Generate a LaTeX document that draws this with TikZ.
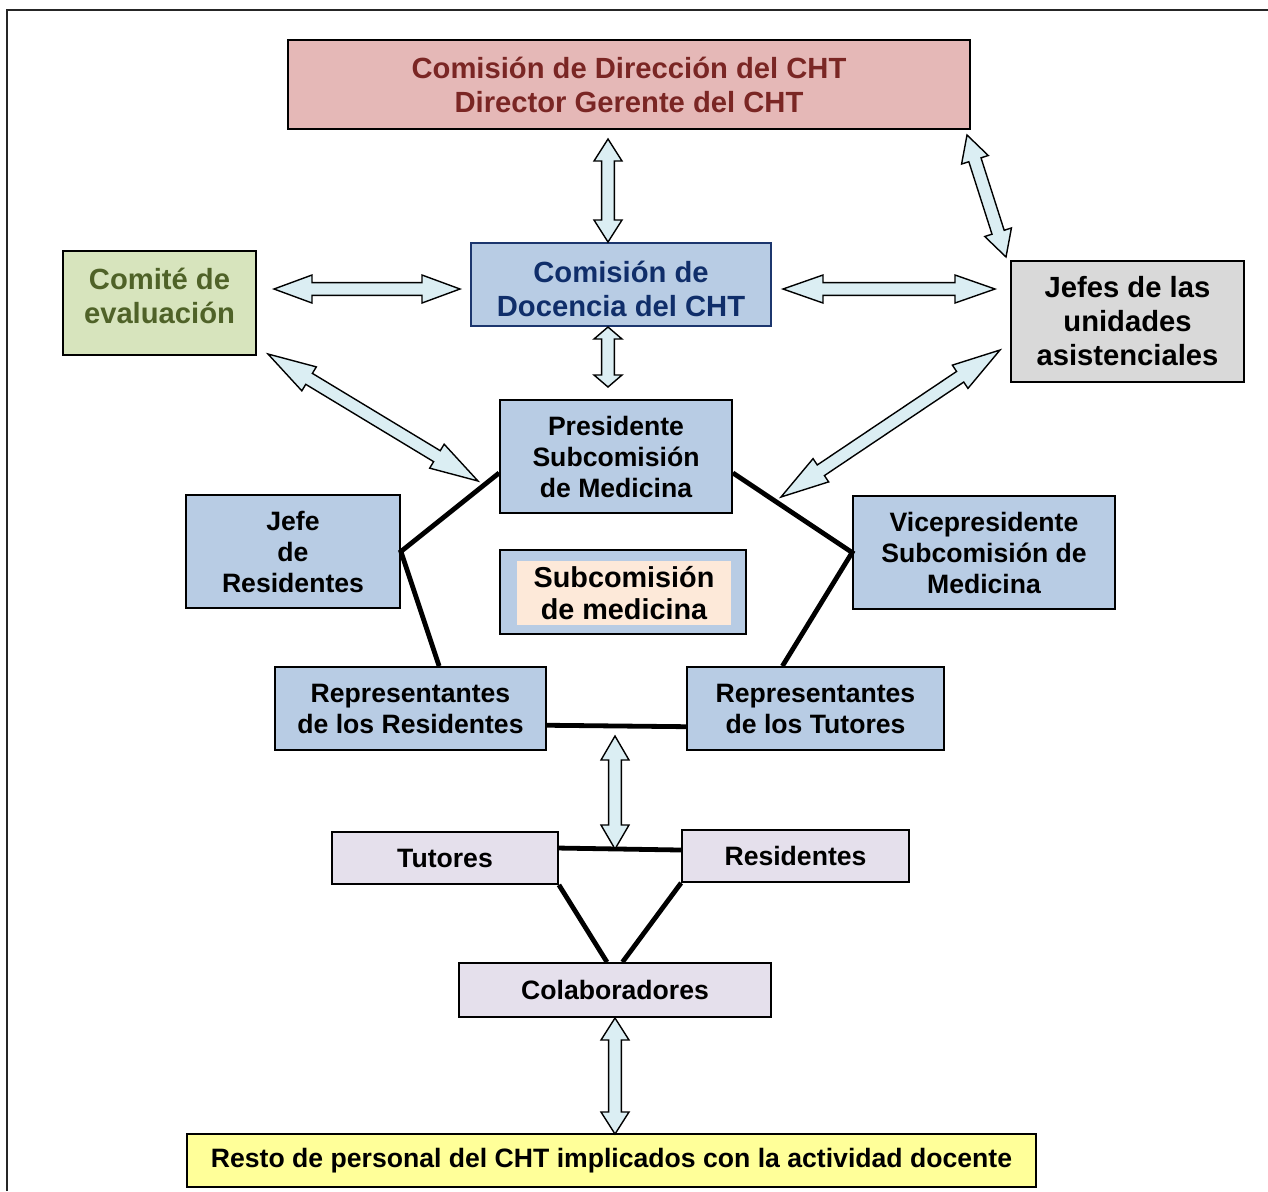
\documentclass[tikz,border=0pt]{standalone}
\usepackage{fontspec}
\setmainfont{Liberation Sans}
\usetikzlibrary{calc}
\definecolor{dirfill}{RGB}{229,184,183}
\definecolor{dirtext}{RGB}{122,38,36}
\definecolor{docfill}{RGB}{184,204,228}
\definecolor{doctext}{RGB}{16,46,106}
\definecolor{docline}{RGB}{28,54,110}
\definecolor{comfill}{RGB}{215,228,189}
\definecolor{comtext}{RGB}{79,98,40}
\definecolor{jeffill}{RGB}{217,217,217}
\definecolor{subfill}{RGB}{253,233,217}
\definecolor{lavfill}{RGB}{229,224,236}
\definecolor{restofill}{RGB}{255,255,153}
\definecolor{arrfill}{RGB}{219,238,243}
\tikzset{
  box/.style={draw=black, line width=0.9pt, align=center, inner sep=0pt, font=\fontsize{13.3}{15.5}\selectfont\bfseries},
  bigbox/.style={box, font=\fontsize{14.6}{17}\selectfont\bfseries},
  link/.style={black, line width=2.4pt},
  arrowbox/.style={draw=black, line width=0.7pt, fill=arrfill, line join=miter}
}
\newcommand\dblarrow[3][11pt]{%
  \draw[arrowbox] let \p1=($(#3)-(#2)$), \n1={atan2(\y1,\x1)}, \n2={veclen(\x1,\y1)} in
    [shift={(#2)}, rotate=\n1]
    (0pt,0pt) -- (#1,7pt) -- (#1,3.2pt) -- ({\n2-#1},3.2pt) -- ({\n2-#1},7pt) -- ({\n2*1pt},0pt)
    -- ({\n2-#1},-7pt) -- ({\n2-#1},-3.2pt) -- (#1,-3.2pt) -- (#1,-7pt) -- cycle;}

\begin{document}
\begin{tikzpicture}[x=0.5pt, y=-0.5pt]
  \useasboundingbox (0,0) rectangle (1268,1191);
  \draw[black!85, line width=1pt] (7,1191) -- (7,10) -- (1268,10);

  \node[bigbox, fill=dirfill, text=dirtext, minimum width=341pt, minimum height=44.5pt] (dir) at (629,84.5) {Comisión de Dirección del CHT\\Director Gerente del CHT};
  \node[bigbox, draw=docline, fill=docfill, text=doctext, minimum width=150pt, minimum height=41.5pt, text height=32.5pt] (doc) at (621,284.5) {Comisión de\\Docencia del CHT};
  \node[bigbox, fill=comfill, text=comtext, minimum width=96.5pt, minimum height=52pt, text depth=7pt] (comite) at (159.5,303) {Comité de\\evaluación};
  \node[bigbox, fill=jeffill, minimum width=116.5pt, minimum height=60.5pt] (jefes) at (1127.5,321.5) {Jefes de las\\unidades\\asistenciales};
  \node[box, fill=docfill, minimum width=116pt, minimum height=56.5pt] (pres) at (616,456.5) {Presidente\\Subcomisión\\de Medicina};
  \node[box, fill=docfill, minimum width=107pt, minimum height=56.5pt] (jefe) at (293,551.5) {Jefe\\de\\Residentes};
  \node[box, fill=docfill, minimum width=131pt, minimum height=56.5pt] (vice) at (984,552.5) {Vicepresidente\\Subcomisión de\\Medicina};
  \node[box, fill=docfill, minimum width=123pt, minimum height=42pt] (sub) at (623,592) {};
  \node[bigbox, draw=none, fill=subfill, minimum width=107pt, minimum height=32pt, font=\fontsize{14.4}{16}\selectfont\bfseries] (subin) at (624,593) {Subcomisión\\de medicina};
  \node[box, fill=docfill, minimum width=135.5pt, minimum height=41.5pt] (repres) at (410.5,708.5) {Representantes\\de los Residentes};
  \node[box, fill=docfill, minimum width=128.5pt, minimum height=41.5pt] (reptut) at (815.5,708.5) {Representantes\\de los Tutores};
  \node[box, fill=lavfill, minimum width=113pt, minimum height=26pt] (tutores) at (445,858) {Tutores};
  \node[box, fill=lavfill, minimum width=113.5pt, minimum height=26pt] (resid) at (795.5,856) {Residentes};
  \node[box, fill=lavfill, minimum width=156pt, minimum height=27pt] (colab) at (615,990) {Colaboradores};
  \node[box, fill=restofill, minimum width=424.5pt, minimum height=26.5pt] (resto) at (611.5,1160.5) {Resto de personal del CHT implicados con la actividad docente};

  \draw[link] (pres.188) -- (jefe.east) -- (repres.56);
  \draw[link] (pres.352) -- (vice.west) -- (reptut.128);
  \draw[link] (repres.353) -- (reptut.188);
  \draw[link] (tutores.5) -- (resid.177);
  \draw[link] (tutores.south east) -- (colab.106);
  \draw[link] (resid.south west) -- (colab.75);

  \coordinate (a1) at (608,139);
  \coordinate (b1) at (608,242);
  \coordinate (a2) at (967,135);
  \coordinate (b2) at (1006,257);
  \coordinate (a3) at (274,289);
  \coordinate (b3) at (460,289);
  \coordinate (a4) at (783,289);
  \coordinate (b4) at (995,289);
  \coordinate (a5) at (608,327);
  \coordinate (b5) at (608,387);
  \coordinate (a6) at (268,354);
  \coordinate (b6) at (478,481);
  \coordinate (a7) at (1000,350);
  \coordinate (b7) at (781,497);
  \coordinate (a8) at (615,736);
  \coordinate (b8) at (615,849);
  \coordinate (a9) at (615,1018);
  \coordinate (b9) at (615,1134);
  \dblarrow{a1}{b1}
  \dblarrow[13pt]{a2}{b2}
  \dblarrow[19pt]{a3}{b3}
  \dblarrow[20pt]{a4}{b4}
  \dblarrow[6pt]{a5}{b5}
  \dblarrow[24pt]{a6}{b6}
  \dblarrow[24pt]{a7}{b7}
  \dblarrow[12pt]{a8}{b8}
  \dblarrow{a9}{b9}
\end{tikzpicture}
\end{document}
